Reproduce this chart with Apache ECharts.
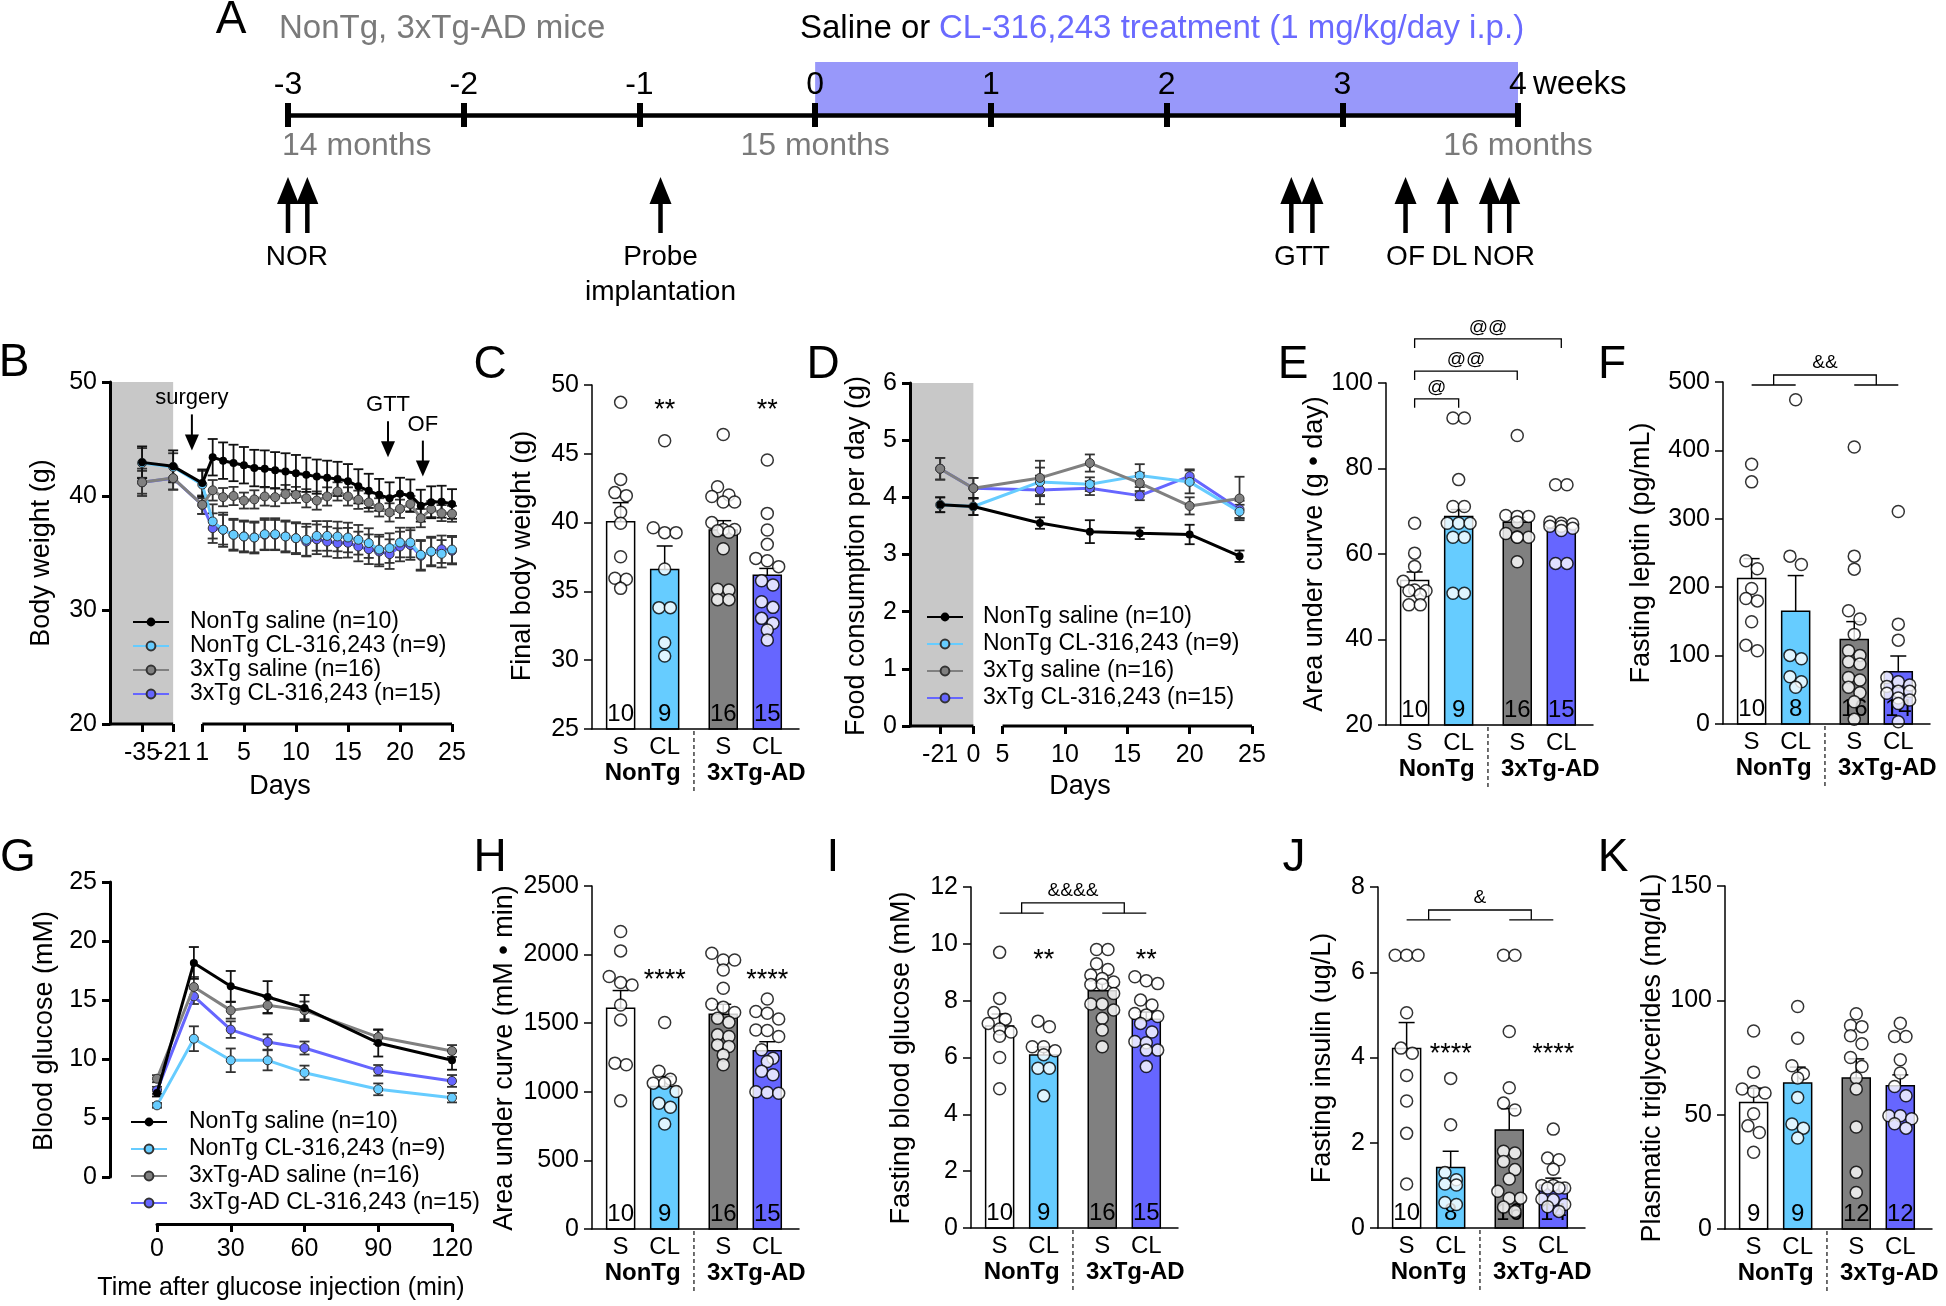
<!DOCTYPE html>
<html>
<head>
<meta charset="utf-8">
<script src="https://cdn.jsdelivr.net/npm/echarts@6.0.0/dist/echarts.min.js"></script>
<style>
html,body{margin:0;padding:0;background:#fff;}
#chart{width:1946px;height:1306px;}
</style>
</head>
<body>
<div id="chart"></div>
<script>
// ======================= DATA =======================
// Panel A – experimental timeline
const timelineWeeks = [-3, -2, -1, 0, 1, 2, 3, 4];
const treatmentWeeks = [0, 4];
const monthWeeks = [-3, 0, 4];
const monthLabels = ['14 months', '15 months', '16 months'];
const eventArrowWeeks = [-3.0, -2.89, -0.88, 2.71, 2.83, 3.36, 3.60, 3.84, 3.95];
const eventLabelWeeks = [-2.95, -0.88, 2.77, 3.36, 3.61, 3.92];
const eventLabels = ['NOR', 'Probe\nimplantation', 'GTT', 'OF', 'DL', 'NOR'];

// Group names (legends)
const groupNames = ['NonTg saline (n=10)', 'NonTg CL-316,243 (n=9)', '3xTg saline (n=16)', '3xTg CL-316,243 (n=15)'];
const groupNamesG = ['NonTg saline (n=10)', 'NonTg CL-316,243 (n=9)', '3xTg-AD saline (n=16)', '3xTg-AD CL-316,243 (n=15)'];

// Panel B – body weight (g)
const bDays = [-35, -21, 1, 2, 3, 4, 5, 6, 7, 8, 9, 10, 11, 12, 13, 14, 15, 16, 17, 18, 19, 20, 21, 22, 23, 24, 25];
const bNonTgSaline = [42.95, 42.60, 41.13, 43.40, 43.10, 42.90, 42.70, 42.45, 42.40, 42.25, 42.15, 42.00, 41.86, 41.70, 41.60, 41.50, 41.30, 40.85, 40.45, 40.10, 39.80, 40.20, 40.05, 39.15, 39.45, 39.50, 39.30];
const bNonTgSalineSem = [1.40, 1.40, 1.20, 1.60, 1.60, 1.60, 1.60, 1.60, 1.60, 1.60, 1.60, 1.60, 1.50, 1.50, 1.50, 1.50, 1.50, 1.50, 1.50, 1.40, 1.40, 1.40, 1.40, 1.40, 1.40, 1.40, 1.30];
const bNonTgCL = [42.90, 42.55, 41.00, 37.77, 37.04, 36.60, 36.45, 36.36, 36.65, 36.65, 36.45, 36.30, 36.16, 36.50, 36.50, 36.45, 36.36, 36.16, 35.87, 35.30, 35.43, 35.92, 35.92, 34.84, 35.13, 34.93, 35.30];
const bNonTgCLSem = [1.30, 1.20, 1.20, 1.50, 1.50, 1.40, 1.40, 1.40, 1.40, 1.40, 1.40, 1.40, 1.40, 1.30, 1.30, 1.30, 1.30, 1.30, 1.30, 1.30, 1.30, 1.30, 1.30, 1.30, 1.20, 1.20, 1.20];
const b3xSaline = [41.20, 41.57, 39.23, 40.50, 39.90, 40.00, 39.60, 39.70, 39.96, 39.90, 40.17, 40.10, 39.80, 39.60, 39.96, 40.40, 39.96, 39.67, 39.43, 39.00, 38.56, 38.88, 39.30, 38.06, 38.85, 38.50, 38.44];
const b3xSalineSem = [1.20, 1.00, 0.80, 0.90, 0.80, 0.80, 0.70, 0.80, 0.80, 0.80, 0.80, 0.70, 0.80, 0.80, 0.80, 0.80, 0.80, 0.80, 0.80, 0.80, 0.80, 0.80, 0.70, 0.80, 0.70, 0.70, 0.70];
const b3xCL = [41.20, 41.55, 39.23, 37.18, 37.04, 36.60, 36.45, 36.36, 36.60, 36.60, 36.45, 36.30, 36.00, 36.20, 36.00, 35.87, 35.90, 35.57, 35.33, 35.13, 34.90, 35.57, 35.70, 34.75, 35.13, 35.33, 35.20];
const b3xCLSem = [1.00, 1.00, 0.80, 1.30, 1.30, 1.30, 1.30, 1.30, 1.30, 1.30, 1.30, 1.30, 1.30, 1.30, 1.30, 1.30, 1.30, 1.30, 1.30, 1.30, 1.30, 1.30, 1.30, 1.30, 1.30, 1.20, 1.20];
const bTickDays = [-35, -21, 1, 5, 10, 15, 20, 25];
const bEventLabels = ['surgery', 'GTT', 'OF'];
const bEventDay = [0, 18.85, 22.2];
const bEventTip = [44.0, 43.4, 41.7];

// Panel C – final body weight (g)
const cMeans = [40.07, 36.60, 39.46, 36.17];
const cSems = [1.38, 1.70, 0.68, 0.50];
const cN = [10, 9, 16, 15];
const cDotsNonTgS = [48.74, 43.14, 42.18, 41.96, 40.75, 39.95, 37.52, 35.95, 35.88, 35.22];
const cDotsNonTgCL = [45.95, 39.63, 39.27, 39.27, 36.63, 33.82, 33.82, 31.27, 30.30];
const cDots3xS = [46.40, 42.60, 42.00, 41.90, 41.50, 41.50, 40.00, 39.50, 39.50, 39.40, 39.30, 38.10, 35.15, 35.10, 34.40, 34.40];
const cDots3xCL = [44.55, 40.67, 39.46, 38.42, 37.40, 37.23, 36.80, 35.78, 35.47, 34.25, 33.84, 33.04, 32.68, 32.20, 31.47];
const cStars = ['', '**', '', '**'];

// Panel D – food consumption per day (g)
const dDays = [-21, 0, 8, 12, 16, 20, 24];
const dNonTgSaline = [3.87, 3.84, 3.55, 3.40, 3.37, 3.35, 2.97];
const dNonTgSalineSem = [0.13, 0.15, 0.10, 0.20, 0.10, 0.17, 0.10];
const dNonTgCL = [3.87, 3.84, 4.27, 4.23, 4.38, 4.27, 3.75];
const dNonTgCLSem = [0.13, 0.15, 0.25, 0.12, 0.20, 0.20, 0.12];
const d3xSaline = [4.50, 4.16, 4.34, 4.60, 4.25, 3.85, 3.98];
const d3xSalineSem = [0.19, 0.18, 0.30, 0.15, 0.18, 0.15, 0.38];
const d3xCL = [4.50, 4.16, 4.13, 4.16, 4.03, 4.37, 3.79];
const d3xCLSem = [0.19, 0.18, 0.25, 0.12, 0.08, 0.12, 0.15];
const dTickDays = [-21, 0, 5, 10, 15, 20, 25];

// Panel E – food AUC (g • day)
const eMeans = [53.8, 68.8, 67.4, 66.0];
const eSems = [2.0, 1.6, 1.2, 1.0];
const eN = [10, 9, 16, 15];
const eDotsNonTgS = [67.2, 60.2, 57.1, 53.6, 51.6, 51.4, 51.4, 50.5, 48.1, 48.1];
const eDotsNonTgCL = [91.8, 91.8, 77.4, 71.1, 71.1, 67.2, 67.2, 67.2, 63.9, 63.9, 50.8, 50.8];
const eDots3xS = [87.7, 69.0, 68.8, 68.8, 67.5, 64.8, 64.0, 63.9, 63.9, 58.2];
const eDots3xCL = [76.2, 76.2, 67.5, 67.2, 67.0, 66.5, 66.5, 66.0, 65.5, 57.8, 57.8];
const eBrackets = [{from: 0, to: 1, y: 96.3, text: '@'}, {from: 0, to: 2, y: 102.8, text: '@@'}, {from: 0, to: 3, y: 110.3, text: '@@'}];

// Panel F – fasting leptin (pg/mL)
const fMeans = [212.8, 165.0, 123.7, 76.4];
const fSems = [29, 52, 26, 23];
const fN = [10, 8, 16, 14];
const fDotsNonTgS = [379.7, 354, 238.6, 227, 198, 183.6, 180, 149.5, 115, 107];
const fDotsNonTgCL = [474, 245.4, 233.2, 100.3, 95.4, 69, 61.8, 53.6];
const fDots3xS = [405, 245.4, 226.4, 165.5, 153.4, 131, 107, 100.3, 91, 87.6, 68, 64.3, 53.6, 45.6, 32.6, 6.8];
const fDots3xCL = [310.6, 146, 122.6, 68, 61.8, 57, 55, 47.7, 47.7, 45, 38, 35, 30, 3.4];
const fGroupBracket = {y: 510.2, yLow: 495.6, text: '&&'};

// Panel G – GTT blood glucose (mM)
const gTimes = [0, 15, 30, 45, 60, 90, 120];
const gNonTgSaline = [7.12, 18.14, 16.16, 15.25, 14.32, 11.36, 9.89];
const gNonTgSalineSem = [0.30, 1.35, 1.30, 1.35, 1.10, 1.15, 0.80];
const gNonTgCL = [6.07, 11.72, 9.89, 9.89, 8.84, 7.43, 6.72];
const gNonTgCLSem = [0.20, 1.05, 1.00, 0.85, 0.60, 0.50, 0.40];
const g3xSaline = [8.33, 16.10, 14.12, 14.55, 14.12, 11.86, 10.68];
const g3xSalineSem = [0.30, 0.85, 0.70, 0.70, 0.75, 0.60, 0.50];
const g3xCL = [7.34, 15.31, 12.49, 11.44, 10.93, 9.04, 8.14];
const g3xCLSem = [0.30, 0.65, 0.70, 0.65, 0.55, 0.45, 0.50];

// Panel H – glucose AUC (mM • min)
const hMeans = [1609, 1039, 1566, 1300];
const hSems = [129, 73, 72, 65];
const hN = [10, 9, 16, 15];
const hDotsNonTgS = [2168, 2027, 1840, 1796, 1779, 1633, 1524, 1209, 1197, 934];
const hDotsNonTgCL = [1505, 1150, 1092, 1063, 1063, 1002, 917, 888, 765];
const hDots3xS = [2010, 1961, 1961, 1888, 1755, 1638, 1617, 1578, 1536, 1507, 1415, 1403, 1342, 1330, 1269, 1197];
const hDots3xCL = [1677, 1585, 1573, 1531, 1451, 1447, 1403, 1306, 1245, 1221, 1150, 1124, 1000, 995, 990];
const hStars = ['', '****', '', '****'];

// Panel I – fasting blood glucose (mM)
const iMeans = [7.11, 6.09, 8.35, 7.35];
const iSems = [0.42, 0.28, 0.27, 0.25];
const iN = [10, 9, 16, 15];
const iDotsNonTgS = [9.7, 8.08, 7.58, 7.35, 7.2, 7.0, 6.9, 6.75, 6.0, 4.9];
const iDotsNonTgCL = [7.28, 7.08, 6.38, 6.38, 6.24, 6.1, 5.62, 5.62, 4.65];
const iDots3xS = [9.8, 9.8, 9.3, 9.1, 8.9, 8.78, 8.66, 8.57, 8.57, 8.25, 7.88, 7.88, 7.67, 7.38, 6.97, 6.38];
const iDots3xCL = [8.84, 8.7, 8.6, 8.02, 7.85, 7.55, 7.5, 7.44, 7.2, 6.9, 6.56, 6.52, 6.26, 6.26, 5.68];
const iStars = ['', '**', '', '**'];
const iGroupBracket = {y: 11.44, yLow: 11.08, text: '&&&&'};

// Panel J – fasting insulin (ug/L)
const jMeans = [4.21, 1.42, 2.30, 1.01];
const jSems = [0.61, 0.38, 0.50, 0.16];
const jN = [10, 8, 16, 14];
const jDotsNonTgS = [6.4, 6.4, 6.4, 5.05, 4.22, 4.1, 3.58, 2.98, 2.22, 1.03];
const jDotsNonTgCL = [3.51, 2.42, 1.3, 1.13, 1.03, 1.01, 0.6, 0.55];
const jDots3xS = [6.4, 6.4, 4.61, 3.29, 2.93, 2.77, 1.8, 1.76, 1.56, 1.37, 1.15, 0.86, 0.7, 0.7, 0.49, 0.39];
const jDots3xCL = [2.32, 1.64, 1.6, 1.38, 1.0, 1.0, 0.94, 0.94, 0.94, 0.68, 0.66, 0.55, 0.5, 0.39];
const jStars = ['', '****', '', '****'];
const jGroupBracket = {y: 7.46, yLow: 7.23, text: '&'};

// Panel K – plasmatic triglycerides (mg/dL)
const kMeans = [55.3, 63.8, 66.0, 62.6];
const kSems = [6.3, 7.0, 8.4, 4.8];
const kN = [9, 9, 12, 12];
const kDotsNonTgS = [86.6, 68.6, 61.2, 60.1, 59.5, 50.4, 45.1, 42.2, 33.6];
const kDotsNonTgCL = [97.3, 83.4, 71.4, 67.9, 66, 57.5, 45.9, 44.1, 39.8];
const kDots3xS = [94.1, 89, 88.5, 84.5, 81, 75, 71.1, 66, 61.2, 44.6, 24.8, 16];
const kDots3xCL = [90, 84.2, 84.2, 74, 68.2, 62.3, 58.3, 49.5, 49.5, 48.2, 46, 44.1];

// Category labels
const xTickText = ['S', 'CL', 'S', 'CL'];
const groupTexts = ['NonTg', '3xTg-AD'];

// ======================= LAYOUT / STYLE =======================
const FONT = '"Liberation Sans", Arial, Helvetica, sans-serif';
const COL = {cyan: '#66ccff', purple: '#6666ff', gray: '#808080', shade: '#c8c8c8', treat: '#9898fa', treatText: '#6a6aff', month: '#7a7a7a'};
const barColors = ['#ffffff', COL.cyan, COL.gray, COL.purple];
const barPos = [1, 2, 3.33, 4.33];
const barXRange = [0.35, 5.05];
const groupLabelPos = [1.5, 4.08];
const dividerPos = 2.665;
const grpStyle = [
  {line: '#000000', fill: '#000000', border: '#000000', bw: 0, size: 8},
  {line: COL.cyan, fill: COL.cyan, border: '#333333', bw: 1, size: 9},
  {line: COL.gray, fill: COL.gray, border: '#333333', bw: 1, size: 9},
  {line: COL.purple, fill: COL.purple, border: '#333333', bw: 1, size: 9}
];
const drawOrder = [3, 1, 2, 0];

// broken x-axis scales (GraphPad-style segmented axes)
const bBreak = {lo: -21, hi: 1, loPos: -1.8, loScale: 0.2134, axisMin: -7.87, axisMax: 25};
function bX(d) { return d >= bBreak.hi ? d : bBreak.loPos + (d - bBreak.lo) * bBreak.loScale; }
const dBreak = {lo: 0, hi: 5, loPos: 2.66, loScale: 0.1267, axisMin: -2.42, axisMax: 25};
function dX(d) { return d >= dBreak.hi ? d : dBreak.loPos + (d - dBreak.lo) * dBreak.loScale; }

function font(size, weight) { return (weight || 'normal') + ' ' + size + 'px ' + FONT; }

const option = {
  animation: false, backgroundColor: '#ffffff',
  textStyle: {fontFamily: FONT, color: '#000'},
  grid: [], xAxis: [], yAxis: [], series: [], legend: [], graphic: []
};

function gText(text, x, y, o) {
  o = o || {};
  option.graphic.push({type: 'text', x: x, y: y, rotation: o.rot || 0, silent: true, z: 100,
    style: {text: text, fill: o.color || '#000', font: font(o.size || 27, o.weight), align: o.align || 'center', verticalAlign: o.va || 'middle'}});
}

function addTextSeries(xi, yi, pts, texts, o) {
  option.series.push({
    type: 'custom', xAxisIndex: xi, yAxisIndex: yi, clip: false, silent: true, z: o.z || 20,
    data: pts,
    renderItem: function (params, api) {
      const c = api.coord([api.value(0), api.value(1)]);
      const i = params.dataIndex;
      const st = {text: texts[i], font: font(o.size, o.weight), fill: o.color || '#000',
        align: o.alignFn ? o.alignFn(i) : (o.align || 'center'), verticalAlign: o.va || 'middle'};
      if (o.lineHeight) st.lineHeight = o.lineHeight;
      return {type: 'text', x: c[0] + (o.dx || 0) + (o.dxFn ? o.dxFn(i) : 0), y: c[1] + (o.dy || 0), style: st};
    }
  });
}

function errSeries(xi, yi, xs, ys, es, color, capW, lw, z) {
  option.series.push({
    type: 'custom', xAxisIndex: xi, yAxisIndex: yi, clip: false, silent: true, z: z,
    data: xs.map((x, i) => [x, ys[i], es[i]]),
    renderItem: function (params, api) {
      const x = api.value(0), y = api.value(1), e = api.value(2);
      const p1 = api.coord([x, y - e]), p2 = api.coord([x, y + e]);
      const h = capW / 2, s = {stroke: color, lineWidth: lw};
      return {type: 'group', children: [
        {type: 'line', shape: {x1: p1[0], y1: p1[1], x2: p2[0], y2: p2[1]}, style: s},
        {type: 'line', shape: {x1: p1[0] - h, y1: p1[1], x2: p1[0] + h, y2: p1[1]}, style: s},
        {type: 'line', shape: {x1: p2[0] - h, y1: p2[1], x2: p2[0] + h, y2: p2[1]}, style: s}
      ]};
    }
  });
}

function lineSeries(xi, yi, name, xs, ys, st, z) {
  option.series.push({type: 'line', name: name, xAxisIndex: xi, yAxisIndex: yi, z: z,
    data: xs.map((x, i) => [x, ys[i]]), symbol: 'circle', symbolSize: st.size, showSymbol: true,
    lineStyle: {color: st.line, width: 3}, itemStyle: {color: st.fill, borderColor: st.border, borderWidth: st.bw},
    emphasis: {disabled: true}, clip: false});
}

function rectSeries(xi, yi, x0, x1, y0, y1, color, z) {
  option.series.push({type: 'custom', xAxisIndex: xi, yAxisIndex: yi, silent: true, z: z, clip: false,
    data: [[x0, x1, y0, y1]],
    renderItem: function (p, api) {
      const a = api.coord([api.value(0), api.value(3)]), b = api.coord([api.value(1), api.value(2)]);
      return {type: 'rect', shape: {x: a[0], y: a[1], width: b[0] - a[0], height: b[1] - a[1]}, style: {fill: color}};
    }});
}

function segSeries(xi, yi, segs, yVal, lw, z) {
  option.series.push({type: 'custom', xAxisIndex: xi, yAxisIndex: yi, silent: true, z: z, clip: false,
    data: segs,
    renderItem: function (p, api) {
      const a = api.coord([api.value(0), yVal]), b = api.coord([api.value(1), yVal]);
      return {type: 'line', shape: {x1: a[0], y1: a[1], x2: b[0], y2: b[1]}, style: {stroke: '#000', lineWidth: lw}};
    }});
}

function axisStyle(width) {
  return {show: true, onZero: false, lineStyle: {color: '#000', width: width}};
}
const plainNum = v => String(v);

// ======================= PANEL A =======================
(function () {
  const gi = option.grid.length;
  option.grid.push({left: 288, top: 62, width: 1230, height: 53});
  const xi = option.xAxis.length;
  option.xAxis.push({gridIndex: gi, position: 'bottom', type: 'value', min: timelineWeeks[0], max: timelineWeeks[timelineWeeks.length - 1], interval: 1, z: 10,
    axisLine: axisStyle(4.5), axisTick: {show: true, length: 12, lineStyle: {color: '#000', width: 6}},
    axisLabel: {show: true, inside: true, margin: 14, fontSize: 32, color: '#000', formatter: plainNum}, splitLine: {show: false}});
  option.xAxis.push({gridIndex: gi, position: 'bottom', type: 'value', min: timelineWeeks[0], max: timelineWeeks[timelineWeeks.length - 1], interval: 1, z: 10,
    axisLine: {show: false}, axisTick: {show: true, inside: true, length: 12, lineStyle: {color: '#000', width: 6}},
    axisLabel: {show: false}, splitLine: {show: false}});
  const yi = option.yAxis.length;
  option.yAxis.push({gridIndex: gi, type: 'value', min: 0, max: 1, show: false});
  rectSeries(xi, yi, treatmentWeeks[0], treatmentWeeks[1], 0, 1, COL.treat, 1);
  // event arrows
  option.series.push({type: 'custom', xAxisIndex: xi, yAxisIndex: yi, silent: true, z: 5, clip: false,
    data: eventArrowWeeks.map(w => [w, 0]),
    renderItem: function (p, api) {
      const c = api.coord([api.value(0), 0]);
      const x = c[0], tip = c[1] + 62, bot = c[1] + 118;
      return {type: 'group', children: [
        {type: 'line', shape: {x1: x, y1: tip + 20, x2: x, y2: bot}, style: {stroke: '#000', lineWidth: 4.5}},
        {type: 'polygon', shape: {points: [[x, tip], [x - 11, tip + 27], [x + 11, tip + 27]]}, style: {fill: '#000'}}
      ]};
    }});
  addTextSeries(xi, yi, eventLabelWeeks.map(w => [w, 0]), eventLabels, {size: 28, dy: 125, va: 'top', lineHeight: 35});
  addTextSeries(xi, yi, monthWeeks.map(w => [w, 0]), monthLabels, {size: 32, color: COL.month, dy: 31,
    alignFn: i => (i === 0 ? 'left' : 'center'), dxFn: i => (i === 0 ? -6 : 0)});
  addTextSeries(xi, yi, [[timelineWeeks[timelineWeeks.length - 1], 0]], ['weeks'], {size: 33, dx: 15, dy: -30, align: 'left'});
})();
gText('NonTg, 3xTg-AD mice', 279, 29, {size: 33, color: COL.month, align: 'left'});
gText('Saline or ', 800, 29, {size: 33, align: 'left'});
gText('CL-316,243 treatment (1 mg/kg/day i.p.)', 939, 29, {size: 33, color: COL.treatText, align: 'left'});

// ======================= LINE PANELS =======================
function linePanel(cfg) {
  const gi = option.grid.length;
  option.grid.push({left: cfg.left, top: cfg.top, width: cfg.width, height: cfg.height});
  const xi = option.xAxis.length;
  const xa = {gridIndex: gi, position: 'bottom', type: 'value', min: cfg.xMin, max: cfg.xMax, z: 10, offset: cfg.offset || 0,
    axisLine: cfg.brokenSegs ? {show: false} : axisStyle(3),
    axisTick: {show: true, length: 8, lineStyle: {color: '#000', width: 3}},
    axisLabel: {show: !cfg.tickPos, fontSize: 25, color: '#000', margin: 13, formatter: plainNum},
    splitLine: {show: false}};
  if (cfg.xInterval) xa.interval = cfg.xInterval;
  if (cfg.tickPos) xa.axisTick.customValues = cfg.tickPos;
  option.xAxis.push(xa);
  const yi = option.yAxis.length;
  option.yAxis.push({gridIndex: gi, position: 'left', type: 'value', min: cfg.yMin, max: cfg.yMax, interval: cfg.yInt, z: 10, offset: cfg.offset || 0,
    axisLine: axisStyle(3), axisTick: {show: true, length: 8, lineStyle: {color: '#000', width: 3}},
    axisLabel: {fontSize: 25, color: '#000', margin: 13, formatter: plainNum}, splitLine: {show: false}});
  if (cfg.tickPos) {
    addTextSeries(xi, yi, cfg.tickPos.map(x => [x, cfg.yMin]), cfg.tickText, {size: 25, dy: 29});
  }
  if (cfg.shade) rectSeries(xi, yi, cfg.shade[0], cfg.shade[1], cfg.yMin, cfg.yMax, COL.shade, 0);
  if (cfg.brokenSegs) segSeries(xi, yi, cfg.brokenSegs, cfg.yMin, 3, 9);
  drawOrder.forEach((g, k) => {
    errSeries(xi, yi, cfg.xs, cfg.ys[g], cfg.es[g], g === 0 ? '#111' : '#333', 10, 1.8, 3 + k);
  });
  drawOrder.forEach((g, k) => {
    lineSeries(xi, yi, cfg.names[g], cfg.xs, cfg.ys[g], grpStyle[g], 8 + k);
  });
  option.legend.push({show: true, orient: 'vertical', left: cfg.legend.left, top: cfg.legend.top, padding: 0,
    itemWidth: 36, itemHeight: 11, itemGap: cfg.legend.gap, selectedMode: false, data: cfg.names.slice(),
    textStyle: {fontSize: 23, color: '#000', padding: [0, 0, 0, cfg.legend.pad], lineHeight: 24}});
  return {xi: xi, yi: yi};
}

// Panel B
const pB = linePanel({left: 110, top: 382, width: 342, height: 342,
  xMin: bBreak.axisMin, xMax: bBreak.axisMax, yMin: 20, yMax: 50, yInt: 10,
  tickPos: bTickDays.map(bX), tickText: bTickDays.map(String),
  brokenSegs: [[bBreak.axisMin, bX(bBreak.lo)], [bBreak.hi, bBreak.axisMax]],
  shade: [bBreak.axisMin, bX(bBreak.lo)],
  xs: bDays.map(bX), ys: [bNonTgSaline, bNonTgCL, b3xSaline, b3xCL], es: [bNonTgSalineSem, bNonTgCLSem, b3xSalineSem, b3xCLSem],
  names: groupNames, legend: {left: 132, top: 610, gap: 0, pad: 16}});
// B event arrows
option.series.push({type: 'custom', xAxisIndex: pB.xi, yAxisIndex: pB.yi, silent: true, z: 15, clip: false,
  data: bEventDay.map((d, i) => [d, bEventTip[i]]),
  renderItem: function (p, api) {
    const c = api.coord([api.value(0), api.value(1)]);
    const x = c[0], tip = c[1];
    return {type: 'group', children: [
      {type: 'line', shape: {x1: x, y1: tip - 36, x2: x, y2: tip - 12}, style: {stroke: '#000', lineWidth: 2}},
      {type: 'polygon', shape: {points: [[x, tip], [x - 7, tip - 16], [x + 7, tip - 16]]}, style: {fill: '#000'}},
      {type: 'text', x: x, y: tip - 52, style: {text: bEventLabels[p.dataIndex], font: font(22), fill: '#000', align: 'center', verticalAlign: 'middle'}}
    ]};
  }});

// Panel D
linePanel({left: 910, top: 383, width: 342, height: 343,
  xMin: dBreak.axisMin, xMax: dBreak.axisMax, yMin: 0, yMax: 6, yInt: 1,
  tickPos: dTickDays.map(dX), tickText: dTickDays.map(String),
  brokenSegs: [[dBreak.axisMin, dX(dBreak.lo)], [dBreak.hi, dBreak.axisMax]],
  shade: [dBreak.axisMin, dX(dBreak.lo)],
  xs: dDays.map(dX), ys: [dNonTgSaline, dNonTgCL, d3xSaline, d3xCL], es: [dNonTgSalineSem, dNonTgCLSem, d3xSalineSem, d3xCLSem],
  names: groupNames, legend: {left: 926, top: 605, gap: 3, pad: 15}});

// Panel G
linePanel({left: 157, top: 882, width: 295, height: 295, offset: 47,
  xMin: 0, xMax: 120, xInterval: 30, yMin: 0, yMax: 25, yInt: 5,
  xs: gTimes, ys: [gNonTgSaline, gNonTgCL, g3xSaline, g3xCL], es: [gNonTgSalineSem, gNonTgCLSem, g3xSalineSem, g3xCLSem],
  names: groupNamesG, legend: {left: 130, top: 1110, gap: 3, pad: 17}});

// ======================= BAR PANELS =======================
function rowsOffsets(values, pxPerY, pxPerX, diam) {
  const idx = values.map((v, i) => i).sort((a, b) => values[b] - values[a]);
  const off = new Array(values.length).fill(0);
  let row = [], rowY = null;
  const flush = () => {
    const m = row.length;
    row.forEach((i, k) => { off[i] = ((k - (m - 1) / 2) * diam * 0.95) / pxPerX; });
    row = [];
  };
  idx.forEach(i => {
    const py = values[i] * pxPerY;
    if (rowY !== null && Math.abs(rowY - py) < diam * 0.8 && row.length < 3) { row.push(i); }
    else { flush(); row = [i]; rowY = py; }
  });
  flush();
  return off;
}

function barPanel(cfg) {
  const W = 207;
  const gi = option.grid.length;
  option.grid.push({left: cfg.left, top: cfg.top, width: W, height: cfg.height});
  const xi = option.xAxis.length;
  const fmt = (pos, txt) => function (v) {
    for (let i = 0; i < pos.length; i++) if (Math.abs(pos[i] - v) < 1e-6) return txt[i];
    return '';
  };
  option.xAxis.push({gridIndex: gi, position: 'bottom', type: 'value', min: barXRange[0], max: barXRange[1], z: 10,
    axisLine: axisStyle(1.5), axisTick: {show: false}, splitLine: {show: false},
    axisLabel: {show: true, customValues: barPos, formatter: fmt(barPos, xTickText), fontSize: 24, color: '#000', margin: 6}});
  option.xAxis.push({gridIndex: gi, position: 'bottom', type: 'value', min: barXRange[0], max: barXRange[1], z: 10,
    axisLine: {show: false}, axisTick: {show: false}, splitLine: {show: false},
    axisLabel: {show: true, customValues: groupLabelPos, formatter: fmt(groupLabelPos, groupTexts), fontSize: 24, fontWeight: 'bold', color: '#000', margin: 32}});
  const yi = option.yAxis.length;
  option.yAxis.push({gridIndex: gi, position: 'left', type: 'value', min: cfg.yMin, max: cfg.yMax, interval: cfg.yInt, z: 10,
    axisLine: axisStyle(1.5), axisTick: {show: true, length: 8, lineStyle: {color: '#000', width: 1.5}},
    axisLabel: {fontSize: 25, color: '#000', margin: 13, formatter: plainNum}, splitLine: {show: false}});
  const yMin = cfg.yMin;
  // bars with n labels
  option.series.push({type: 'custom', xAxisIndex: xi, yAxisIndex: yi, silent: true, z: 2, clip: false,
    data: barPos.map((x, i) => [x, cfg.means[i]]),
    renderItem: function (p, api) {
      const i = p.dataIndex;
      const base = api.coord([api.value(0), yMin]), top = api.coord([api.value(0), api.value(1)]);
      return {type: 'group', children: [
        {type: 'rect', shape: {x: base[0] - 14, y: top[1], width: 28, height: base[1] - top[1]},
          style: {fill: barColors[i], stroke: '#000', lineWidth: 1.5}},
        {type: 'text', x: base[0], y: base[1] - 3, style: {text: String(cfg.ns[i]), font: font(24), fill: '#000', align: 'center', verticalAlign: 'bottom'}}
      ]};
    }});
  // SEM (upper only)
  option.series.push({type: 'custom', xAxisIndex: xi, yAxisIndex: yi, silent: true, z: 3, clip: false,
    data: barPos.map((x, i) => [x, cfg.means[i], cfg.sems[i]]),
    renderItem: function (p, api) {
      const a = api.coord([api.value(0), api.value(1)]), b = api.coord([api.value(0), api.value(1) + api.value(2)]);
      const s = {stroke: '#000', lineWidth: 1.5};
      return {type: 'group', children: [
        {type: 'line', shape: {x1: a[0], y1: a[1], x2: b[0], y2: b[1]}, style: s},
        {type: 'line', shape: {x1: b[0] - 8, y1: b[1], x2: b[0] + 8, y2: b[1]}, style: s}
      ]};
    }});
  // dots
  const pxPerY = cfg.height / (cfg.yMax - cfg.yMin), pxPerX = W / (barXRange[1] - barXRange[0]);
  const pts = [];
  cfg.dots.forEach((vals, g) => {
    const off = rowsOffsets(vals, pxPerY, pxPerX, 12);
    vals.forEach((v, k) => pts.push([barPos[g] + off[k], v]));
  });
  option.series.push({type: 'scatter', xAxisIndex: xi, yAxisIndex: yi, z: 5, silent: true, clip: false,
    symbol: 'circle', symbolSize: 12, data: pts,
    itemStyle: {color: '#ffffff', borderColor: '#000', borderWidth: 1.5}});
  // divider
  option.series.push({type: 'custom', xAxisIndex: xi, yAxisIndex: yi, silent: true, z: 4, clip: false,
    data: [[dividerPos, yMin]],
    renderItem: function (p, api) {
      const c = api.coord([api.value(0), api.value(1)]);
      return {type: 'line', shape: {x1: c[0], y1: c[1] + 2, x2: c[0], y2: c[1] + 64}, style: {stroke: '#222', lineWidth: 1.3, lineDash: [4, 3]}};
    }});
  // stars
  if (cfg.stars) {
    const sp = [], st = [];
    cfg.stars.forEach((s, i) => { if (s) { sp.push([barPos[i], cfg.starY]); st.push(s); } });
    addTextSeries(xi, yi, sp, st, {size: 27, dy: 6});
  }
  // pairwise brackets
  if (cfg.brackets) {
    option.series.push({type: 'custom', xAxisIndex: xi, yAxisIndex: yi, silent: true, z: 6, clip: false,
      data: cfg.brackets.map(b => [barPos[b.from], barPos[b.to], b.y]),
      renderItem: function (p, api) {
        const a = api.coord([api.value(0), api.value(2)]), b = api.coord([api.value(1), api.value(2)]);
        const s = {stroke: '#000', lineWidth: 1.3};
        return {type: 'group', children: [
          {type: 'polyline', shape: {points: [[a[0], a[1] + 9], [a[0], a[1]], [b[0], b[1]], [b[0], b[1] + 9]]}, style: Object.assign({fill: null}, s)},
          {type: 'text', x: (a[0] + b[0]) / 2, y: a[1] - 11, style: {text: cfg.brackets[p.dataIndex].text, font: font(19), fill: '#000', align: 'center', verticalAlign: 'middle'}}
        ]};
      }});
  }
  // group bracket (NonTg vs 3xTg-AD)
  if (cfg.groupBracket) {
    const gb = cfg.groupBracket;
    option.series.push({type: 'custom', xAxisIndex: xi, yAxisIndex: yi, silent: true, z: 6, clip: false,
      data: [[gb.y, gb.yLow]],
      renderItem: function (p, api) {
        const hi = api.value(0), lo = api.value(1);
        const c1 = (barPos[0] + barPos[1]) / 2, c2 = (barPos[2] + barPos[3]) / 2;
        const P = (x, y) => api.coord([x, y]);
        const s = {stroke: '#000', lineWidth: 1.3, fill: null};
        const l1a = P(barPos[0], lo), l1b = P(barPos[1], lo), l2a = P(barPos[2], lo), l2b = P(barPos[3], lo);
        const m1 = P(c1, hi), m2 = P(c2, hi), d1 = P(c1, lo), d2 = P(c2, lo);
        return {type: 'group', children: [
          {type: 'line', shape: {x1: l1a[0], y1: l1a[1], x2: l1b[0], y2: l1b[1]}, style: s},
          {type: 'line', shape: {x1: l2a[0], y1: l2a[1], x2: l2b[0], y2: l2b[1]}, style: s},
          {type: 'polyline', shape: {points: [[d1[0], d1[1]], [m1[0], m1[1]], [m2[0], m2[1]], [d2[0], d2[1]]]}, style: s},
          {type: 'text', x: (m1[0] + m2[0]) / 2, y: m1[1] - 12, style: {text: gb.text, font: font(19), fill: '#000', align: 'center', verticalAlign: 'middle'}}
        ]};
      }});
  }
  gText(cfg.title, cfg.titleX, cfg.titleY, {size: 27, rot: Math.PI / 2});
}

barPanel({left: 592, top: 385, height: 344, yMin: 25, yMax: 50, yInt: 5, means: cMeans, sems: cSems, ns: cN,
  dots: [cDotsNonTgS, cDotsNonTgCL, cDots3xS, cDots3xCL], stars: cStars, starY: 48.55,
  title: 'Final body weight (g)', titleX: 523, titleY: 556});
barPanel({left: 1386, top: 383, height: 342, yMin: 20, yMax: 100, yInt: 20, means: eMeans, sems: eSems, ns: eN,
  dots: [eDotsNonTgS, eDotsNonTgCL, eDots3xS, eDots3xCL], brackets: eBrackets,
  title: 'Area under curve (g \u2022 day)', titleX: 1315, titleY: 554});
barPanel({left: 1723, top: 382, height: 342, yMin: 0, yMax: 500, yInt: 100, means: fMeans, sems: fSems, ns: fN,
  dots: [fDotsNonTgS, fDotsNonTgCL, fDots3xS, fDots3xCL], groupBracket: fGroupBracket,
  title: 'Fasting leptin (pg/mL)', titleX: 1642, titleY: 553});
barPanel({left: 592, top: 886, height: 343, yMin: 0, yMax: 2500, yInt: 500, means: hMeans, sems: hSems, ns: hN,
  dots: [hDotsNonTgS, hDotsNonTgCL, hDots3xS, hDots3xCL], stars: hStars, starY: 1858,
  title: 'Area under curve (mM \u2022 min)', titleX: 505, titleY: 1058});
barPanel({left: 971, top: 887, height: 341, yMin: 0, yMax: 12, yInt: 2, means: iMeans, sems: iSems, ns: iN,
  dots: [iDotsNonTgS, iDotsNonTgCL, iDots3xS, iDots3xCL], stars: iStars, starY: 9.64, groupBracket: iGroupBracket,
  title: 'Fasting blood glucose (mM)', titleX: 902, titleY: 1058});
barPanel({left: 1378, top: 887, height: 341, yMin: 0, yMax: 8, yInt: 2, means: jMeans, sems: jSems, ns: jN,
  dots: [jDotsNonTgS, jDotsNonTgCL, jDots3xS, jDots3xCL], stars: jStars, starY: 4.22, groupBracket: jGroupBracket,
  title: 'Fasting insulin (ug/L)', titleX: 1323, titleY: 1058});
barPanel({left: 1725, top: 886, height: 343, yMin: 0, yMax: 150, yInt: 50, means: kMeans, sems: kSems, ns: kN,
  dots: [kDotsNonTgS, kDotsNonTgCL, kDots3xS, kDots3xCL],
  title: 'Plasmatic triglycerides (mg/dL)', titleX: 1653, titleY: 1058});

// line-panel axis titles
gText('Body weight (g)', 42, 553, {size: 27, rot: Math.PI / 2});
gText('Days', 280, 787, {size: 27});
gText('Food consumption per day (g)', 857, 556, {size: 27, rot: Math.PI / 2});
gText('Days', 1080, 787, {size: 27});
gText('Blood glucose (mM)', 45, 1031, {size: 27, rot: Math.PI / 2});
gText('Time after glucose injection (min)', 281, 1288, {size: 25});

// panel letters
[['A', 231, 20], ['B', 14, 363], ['C', 490, 365], ['D', 823, 365], ['E', 1293, 365], ['F', 1612, 365],
 ['G', 18, 858], ['H', 490, 858], ['I', 833, 858], ['J', 1294, 858], ['K', 1613, 858]].forEach(l => gText(l[0], l[1], l[2], {size: 46}));

const chart = echarts.init(document.getElementById('chart'), null, {renderer: 'canvas'});
chart.setOption(option);
</script>
</body>
</html>
